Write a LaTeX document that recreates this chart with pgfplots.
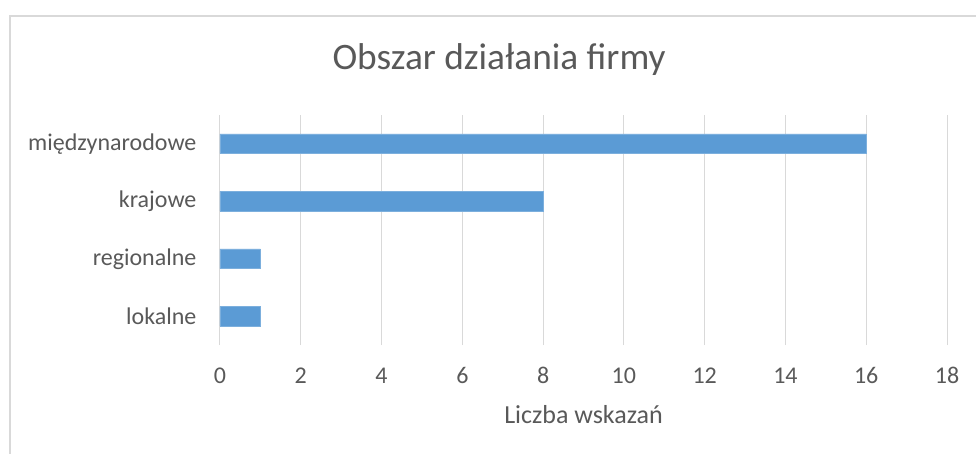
\documentclass[border=0pt]{standalone}
\usepackage{fontspec}
\setmainfont{Carlito}
\usepackage{pgfplots}
\pgfplotsset{compat=1.18}
\definecolor{barblue}{HTML}{5B9BD5}
\definecolor{gridgray}{HTML}{D9D9D9}
\definecolor{txtgray}{HTML}{595959}
\begin{document}
\begin{tikzpicture}
% page = 976x454 px, 1px = 0.75pt
\path[use as bounding box] (0,0) rectangle (732pt,340.5pt);
\draw[gridgray, line width=1.5pt] (7.7pt,-2pt) -- (7.7pt,328.3pt) -- (740pt,328.3pt);
\node[anchor=base, text=txtgray, font=\fontsize{28}{33}\selectfont] at (374.3pt,288.4pt) {Obszar działania firmy};
\begin{axis}[
    at={(165pt,81.75pt)}, anchor=south west,
    scale only axis,
    width=545.25pt, height=172.5pt,
    xbar, bar width=14.7pt,
    xmin=0, xmax=18,
    ymin=-0.5, ymax=3.5,
    xtick={0,2,...,18},
    ytick={0,1,2,3},
    yticklabels={lokalne,regionalne,krajowe,międzynarodowe},
    xmajorgrids,
    grid style={gridgray, line width=0.75pt},
    axis line style={draw=none},
    major tick length=0pt,
    tick label style={font=\fontsize{18}{21}\selectfont, text=txtgray, inner sep=0pt},
    /pgf/number format/assume math mode=true,
    xticklabel style={anchor=base, yshift=-28.7pt},
    yticklabel style={anchor=east, xshift=-17.5pt},
    xlabel={Liczba wskazań},
    xlabel style={font=\fontsize{19.5}{23}\selectfont, text=txtgray, anchor=base, at={(axis description cs:0.5,0)}, yshift=-58.7pt, inner sep=0pt},
    clip=false,
]
\addplot[fill=barblue, draw=barblue!80!white, line width=0.5pt] coordinates {(1,0) (1,1) (8,2) (16,3)};
\end{axis}
\end{tikzpicture}
\end{document}
